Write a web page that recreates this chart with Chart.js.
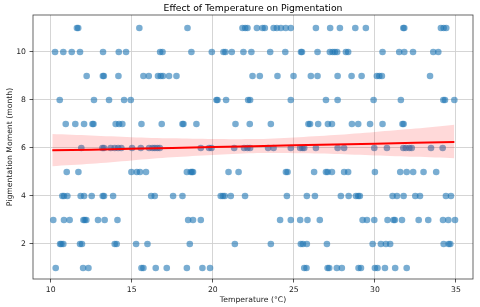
<!DOCTYPE html>
<html>
<head>
<meta charset="utf-8">
<script src="https://cdn.jsdelivr.net/npm/chart.js@4.4.0/dist/chart.umd.min.js"></script>
<style>
  html, body { margin: 0; padding: 0; background: #fff; }
  canvas { display: block; }
</style>
</head>
<body>
<canvas id="c" width="480" height="307"></canvas>
<script>
// Temperatures (°C) observed for each pigmentation moment (month)
const tempsAt1  = [10.31, 12.0, 12.33, 15.6, 15.72, 16.48, 17.16, 18.4, 19.36, 19.83, 25.64, 25.78, 27.08, 27.18, 27.65, 27.96, 28.99, 29.14, 30.0, 30.16, 30.62, 31.25, 31.96];
const tempsAt2  = [10.58, 10.66, 10.78, 11.81, 11.93, 13.95, 14.07, 15.27, 15.97, 18.58, 21.36, 23.58, 25.43, 25.56, 25.8, 27.04, 29.86, 30.37, 30.68, 30.94, 34.24, 34.55, 34.65];
const tempsAt3  = [10.16, 10.82, 11.17, 12.02, 12.1, 12.2, 12.92, 13.33, 14.12, 18.48, 18.78, 19.26, 24.15, 24.81, 25.39, 25.84, 26.6, 29.24, 29.51, 29.96, 30.78, 31.15, 31.23, 31.67, 32.7, 33.29, 34.2, 34.53, 34.94];
const tempsAt4  = [10.72, 10.82, 11.03, 11.85, 12.06, 12.53, 13.21, 13.29, 13.85, 16.2, 16.42, 17.55, 18.13, 20.49, 20.62, 20.74, 21.11, 21.99, 24.57, 25.8, 26.3, 27.9, 28.38, 28.83, 28.97, 29.07, 31.09, 31.36, 31.77, 32.49, 32.78, 34.38, 34.69];
const tempsAt5  = [10.99, 11.71, 14.98, 15.31, 15.51, 15.88, 18.4, 18.64, 18.72, 18.78, 20.97, 21.59, 24.51, 24.61, 26.25, 26.98, 27.08, 27.35, 28.1, 28.35, 30.0, 31.56, 31.96, 32.36, 33.0, 33.78];
const tempsAt6  = [11.89, 13.19, 13.29, 13.7, 13.95, 14.16, 14.36, 15.02, 15.56, 16.07, 16.28, 16.42, 16.58, 16.73, 19.26, 19.77, 19.92, 21.32, 21.93, 22.14, 22.3, 23.41, 23.75, 24.81, 25.39, 25.53, 25.64, 26.36, 27.7, 28.1, 29.96, 30.74, 31.75, 31.91, 32.12, 32.27, 33.46, 34.18];
const tempsAt7  = [10.93, 11.52, 12.06, 12.58, 12.64, 14.01, 14.22, 14.42, 15.6, 16.85, 18.13, 18.19, 18.99, 21.4, 22.28, 23.58, 25.9, 26.0, 26.5, 27.1, 27.35, 28.58, 28.97, 29.7, 30.47, 31.7, 31.77];
const tempsAt8  = [10.56, 12.67, 13.6, 14.53, 14.94, 20.23, 20.29, 20.82, 22.18, 22.3, 24.81, 26.98, 27.7, 29.92, 31.6, 34.22, 34.32, 34.9];
const tempsAt9  = [12.22, 13.22, 13.28, 14.18, 15.72, 16.05, 16.62, 16.79, 16.93, 17.3, 17.76, 22.45, 22.9, 23.99, 24.98, 26.05, 26.46, 27.7, 28.56, 29.18, 30.12, 30.27, 30.43, 33.4];
const tempsAt10 = [10.27, 10.78, 11.30, 11.81, 13.23, 14.2, 14.65, 16.75, 16.9, 18.68, 19.94, 20.66, 20.78, 21.17, 21.89, 22.38, 23.54, 24.47, 25.44, 25.50, 26.46, 27.22, 27.39, 27.53, 27.67, 28.21, 28.35, 30.47, 31.5, 31.81, 32.35, 33.6, 33.91];
const tempsAt11 = [11.62, 11.70, 15.47, 18.44, 21.83, 22.0, 22.14, 22.72, 23.07, 23.21, 23.75, 23.95, 24.2, 24.5, 24.81, 26.36, 27.24, 27.84, 28.79, 29.44, 31.75, 31.81, 34.07, 34.24, 34.4];
const months = [1, 2, 3, 4, 5, 6, 7, 8, 9, 10, 11];
const tempsByMonth = [tempsAt1, tempsAt2, tempsAt3, tempsAt4, tempsAt5, tempsAt6, tempsAt7, tempsAt8, tempsAt9, tempsAt10, tempsAt11];

// Regression fit and confidence band
const fitX     = [10.1, 12.5, 15, 17.5, 20, 22.5, 25, 27.5, 30, 32.5, 34.9];
const fitY     = [5.90, 5.93, 5.97, 6.00, 6.04, 6.07, 6.11, 6.14, 6.18, 6.22, 6.25];
const bandUp   = [6.58, 6.52, 6.45, 6.40, 6.37, 6.37, 6.44, 6.54, 6.67, 6.81, 6.97];
const bandLow  = [5.24, 5.34, 5.48, 5.61, 5.71, 5.78, 5.78, 5.75, 5.69, 5.63, 5.57];

const xTicks = [10, 15, 20, 25, 30, 35];
const yTicks = [2, 4, 6, 8, 10];
const xRange = [8.91, 36.05];
const yRange = [0.54, 11.54];

const titleText = 'Effect of Temperature on Pigmentation';
const xLabel = 'Temperature (°C)';
const yLabel = 'Pigmentation Moment (month)';

const scatterPts = [];
tempsByMonth.forEach((arr, i) => arr.forEach(t => scatterPts.push({x: t, y: months[i]})));
const toPts = (xs, ys) => xs.map((x, i) => ({x: x, y: ys[i]}));

const FONT = "'DejaVu Sans', sans-serif";

const framePlugin = {
  id: 'frame',
  afterDraw(chart) {
    const {ctx, chartArea: a} = chart;
    ctx.save();
    ctx.strokeStyle = 'rgba(0,0,0,0.75)';
    ctx.lineWidth = 0.8;
    ctx.strokeRect(a.left, a.top, a.right - a.left, a.bottom - a.top);
    ctx.fillStyle = '#000';
    ctx.font = "9.25px " + FONT;
    ctx.textAlign = 'center';
    ctx.textBaseline = 'middle';
    ctx.fillText(titleText, (a.left + a.right) / 2, 8.8);
    ctx.restore();
  }
};

new Chart(document.getElementById('c'), {
  type: 'scatter',
  data: {
    datasets: [
      {
        type: 'line', data: toPts(fitX, bandLow), borderWidth: 0, pointRadius: 0,
        backgroundColor: 'rgba(255,0,0,0.15)', fill: false, order: 2, tension: 0.3
      },
      {
        type: 'line', data: toPts(fitX, bandUp), borderWidth: 0, pointRadius: 0,
        backgroundColor: 'rgba(255,0,0,0.15)', fill: '-1', order: 2, tension: 0.3
      },
      {
        type: 'line', data: toPts(fitX, fitY), borderColor: '#ff0000', borderWidth: 2,
        pointRadius: 0, fill: false, order: 1
      },
      {
        data: scatterPts, pointRadius: 3.3, borderWidth: 0,
        backgroundColor: 'rgba(31,119,180,0.6)', order: 3
      }
    ]
  },
  options: {
    responsive: false,
    animation: false,
    devicePixelRatio: 1,
    layout: { padding: { top: 15, right: 7, left: 0, bottom: 0 } },
    plugins: { legend: { display: false }, tooltip: { enabled: false }, title: { display: false } },
    scales: {
      x: {
        type: 'linear', min: xRange[0], max: xRange[1],
        afterBuildTicks: s => { s.ticks = xTicks.map(v => ({value: v})); },
        afterFit: s => { s.height = 28; },
        grid: { color: '#d0d0d0', lineWidth: 0.9, tickLength: 3.5, tickColor: '#444', drawTicks: true },
        border: { display: false },
        ticks: { font: { family: FONT, size: 7.7 }, color: '#222', padding: 3.2, maxRotation: 0 },
        title: { display: true, text: xLabel, font: { family: FONT, size: 7.7 }, color: '#222', padding: { top: 0, bottom: 2.4 } }
      },
      y: {
        type: 'linear', min: yRange[0], max: yRange[1],
        afterBuildTicks: s => { s.ticks = yTicks.map(v => ({value: v})); },
        afterFit: s => { s.width = 33; },
        grid: { color: '#d0d0d0', lineWidth: 0.9, tickLength: 3.5, tickColor: '#444', drawTicks: true },
        border: { display: false },
        ticks: { font: { family: FONT, size: 7.7 }, color: '#222', padding: 3.5 },
        title: { display: true, text: yLabel, font: { family: FONT, size: 7.7 }, color: '#222', padding: { top: 5.4, bottom: 0 } }
      }
    }
  },
  plugins: [framePlugin]
});
</script>
</body>
</html>
